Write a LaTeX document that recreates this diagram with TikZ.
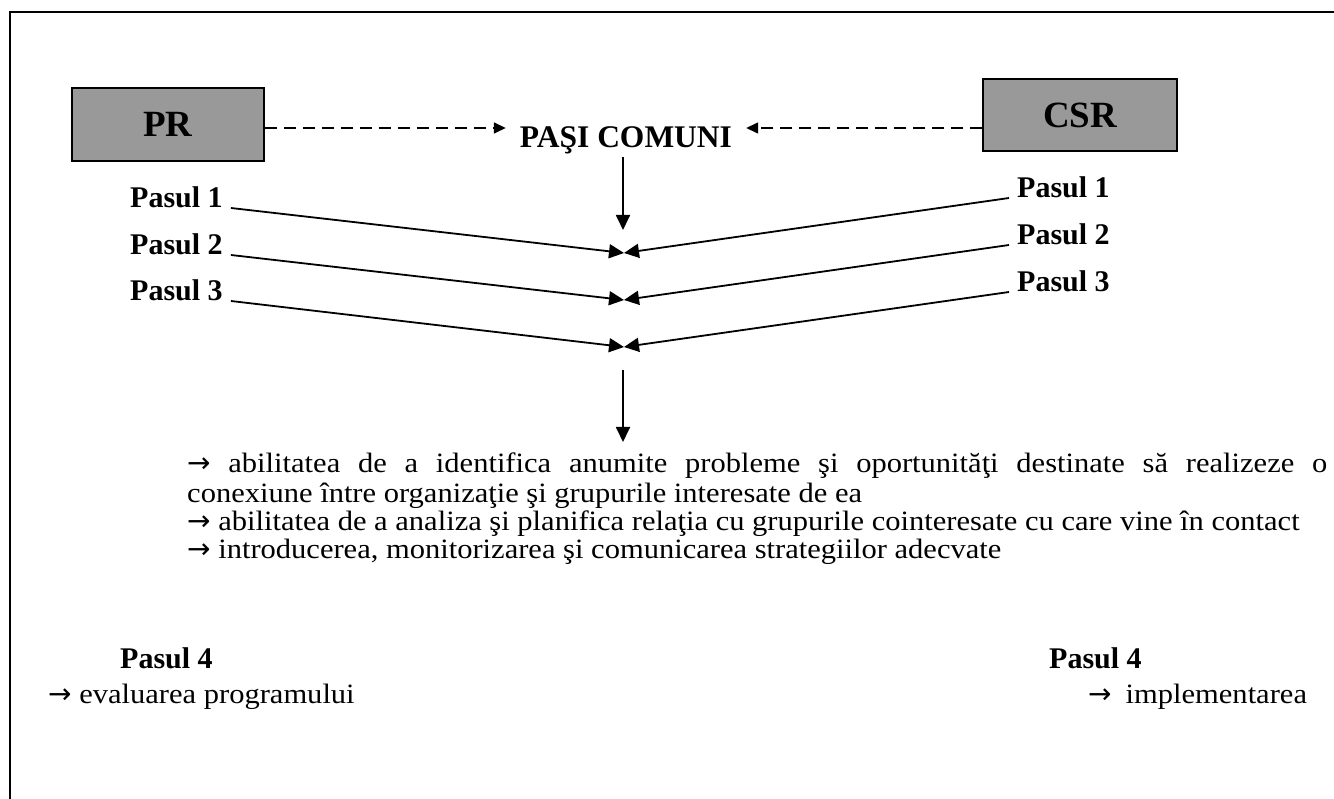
\documentclass[tikz,border=0pt]{standalone}
\usepackage{fontspec}
\setmainfont{Liberation Serif}
\newfontfamily\bodyfont{Liberation Serif}[FakeStretch=1.09]
\newfontfamily\arrowfont{DejaVu Sans}
\usetikzlibrary{arrows.meta, positioning}
\definecolor{boxgray}{HTML}{999999}
\newcommand{\arr}{{\arrowfont →}}
\tikzset{
  boxnode/.style={draw=black, line width=1.5pt, fill=boxgray, minimum height=73pt, font=\fontsize{37}{37}\selectfont\bfseries},
  pasul/.style={font=\fontsize{30}{30}\selectfont\bfseries, inner xsep=8pt, inner ysep=0pt, anchor=base west},
  bodytext/.style={font=\bodyfont\fontsize{28}{28}\selectfont, inner sep=0pt, anchor=base west},
  flow/.style={line width=1.8pt, -{Triangle[length=15pt,width=14pt]}},
  dashlink/.style={line width=1.6pt, dash pattern=on 12pt off 7pt, -{Triangle[length=12pt,width=11pt]}}
}

\begin{document}
\begin{tikzpicture}[x=1pt, y=-1pt]
  \useasboundingbox (0,0) rectangle (1334,799);
  % outer frame, runs off at right and bottom
  \draw[line width=2pt] (1334,12) -- (10,12) -- (10,799);

  % PR and CSR boxes
  \node[boxnode, minimum width=192pt] (pr) at (168,124.5) {PR};
  \node[boxnode, minimum width=194pt, minimum height=72pt] (csr) at (1080,115) {CSR};

  % common steps
  \node[font=\fontsize{31.5}{31.5}\selectfont\bfseries, inner xsep=14pt, inner ysep=3pt] (comuni) at (626,140) {PAŞI COMUNI};
  \coordinate (lvl) at (0,128);
  \draw[dashlink] (pr.east |- lvl) -- (comuni.west |- lvl);
  \draw[dashlink] (csr.west |- lvl) -- (comuni.east |- lvl);

  % meeting points
  \coordinate (top) at (623,230);
  \coordinate (m1) at (624,253);
  \coordinate (m2) at (624,300);
  \coordinate (m3) at (624,347);
  \draw[flow] (comuni.south -| top) -- (top);

  % left steps (PR)
  \node[pasul] (pasL1) at (122,208) {Pasul 1};
  \node[pasul] (pasL2) at (122,255) {Pasul 2};
  \node[pasul] (pasL3) at (122,301) {Pasul 3};
  \draw[flow] (pasL1.base east) -- (m1);
  \draw[flow] (pasL2.base east) -- (m2);
  \draw[flow] (pasL3.base east) -- (m3);

  % right steps (CSR)
  \node[pasul] (pasR1) at (1009,198) {Pasul 1};
  \node[pasul] (pasR2) at (1009,245) {Pasul 2};
  \node[pasul] (pasR3) at (1009,292) {Pasul 3};
  \draw[flow] (pasR1.base west) -- (m1);
  \draw[flow] (pasR2.base west) -- (m2);
  \draw[flow] (pasR3.base west) -- (m3);

  % result
  \coordinate (d1) at (623,370);
  \coordinate (d2) at (623,442);
  \draw[flow] (d1) -- (d2);

  \node[bodytext] (ab1) at (187,473) {\makebox[1140pt][s]{\arr{} abilitatea de a identifica anumite probleme şi oportunităţi destinate să realizeze o}};
  \node[bodytext] (ab2) at (187,502) {conexiune între organizaţie şi grupurile interesate de ea};
  \node[bodytext] (ab3) at (187,530) {\arr{} abilitatea de a analiza şi planifica relaţia cu grupurile cointeresate cu care vine în contact};
  \node[bodytext] (ab4) at (187,558) {\arr{} introducerea, monitorizarea şi comunicarea strategiilor adecvate};

  % step 4 on both sides
  \node[pasul] (pasL4) at (112,668) {Pasul 4};
  \node[bodytext] (eval) at (48,703) {\arr{} evaluarea programului};
  \node[pasul] (pasR4) at (1041,668) {Pasul 4};
  \node[bodytext] (impl) at (1088,703) {\arr\hspace{0.5em}implementarea};
\end{tikzpicture}
\end{document}
